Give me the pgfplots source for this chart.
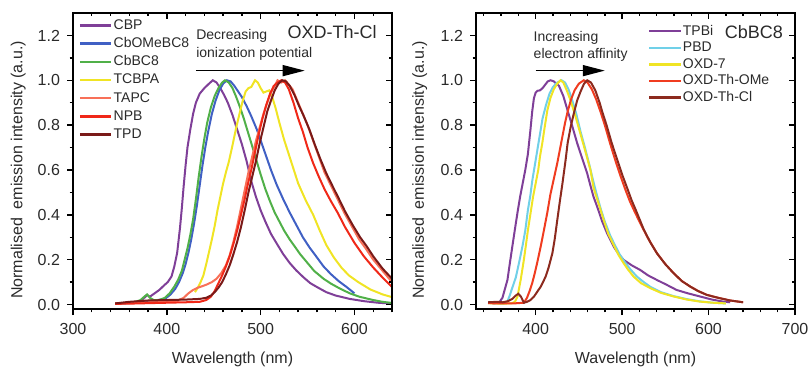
\documentclass[border=0pt]{standalone}
\usepackage{pgfplots}
\pgfplotsset{compat=1.18}
\usepackage{fontspec}
\setmainfont{Liberation Sans}
\usetikzlibrary{arrows.meta}
\definecolor{labgray}{HTML}{2A2A2A}
\definecolor{cPurple}{HTML}{7F3F98}
\definecolor{cBlue}{HTML}{4060C4}
\definecolor{cGreen}{HTML}{50B048}
\definecolor{cYellow}{HTML}{F0E424}
\definecolor{cTAPC}{HTML}{F87058}
\definecolor{cNPB}{HTML}{F02818}
\definecolor{cTPD}{HTML}{7A1A18}
\definecolor{cCyan}{HTML}{70D0E8}
\definecolor{cOMe}{HTML}{F03C20}
\definecolor{cCl}{HTML}{8C2A1E}
\pgfplotsset{
  base/.style={
    scale only axis, width=159.5pt, height=148pt,
    ymin=-0.02, ymax=1.3,
    ytick={0,0.2,0.4,0.6,0.8,1.0,1.2},
    minor ytick={0.1,0.3,0.5,0.7,0.9,1.1},
    axis line style={line width=0.9pt},
    every tick/.style={line width=0.7pt, black},
    major tick length=3pt, minor tick length=1.7pt,
  },
  myaxis/.style={
    base,
    tick align=outside, xtick pos=bottom, ytick pos=left,
    yticklabel style={/pgf/number format/fixed, /pgf/number format/fixed zerofill, /pgf/number format/precision=1},
    /pgf/number format/assume math mode=true,
    tick label style={font=\fontsize{8}{9}\selectfont, text=labgray},
    xticklabel style={yshift=-0.8pt},
    label style={font=\fontsize{8}{9}\selectfont, text=labgray},
    xlabel={Wavelength (nm)},
    ylabel={Normalised\ \ emission intensity (a.u.)},
    xlabel style={at={(axis description cs:0.5,0)}, anchor=base, yshift=-27pt},
    every axis plot/.append style={line width=1pt},
    legend cell align=left,
    legend image code/.code={\draw[##1, line width=1.2pt] (0pt,0pt) -- (15.8pt,0pt);},
  },
  mirror/.style={
    base, tick align=inside, xtick pos=top, ytick pos=right,
    xticklabels={}, yticklabels={},
  },
}
\begin{document}
\begin{tikzpicture}
\path[use as bounding box] (-36.5pt,-28.5pt) rectangle (368.5pt,154.5pt);
% ---------------- left panel ----------------
\begin{axis}[myaxis, at={(0pt,0pt)}, anchor=south west,
  xmin=300, xmax=640, xtick={300,400,500,600},
  minor xtick={320,340,360,380,420,440,460,480,520,540,560,580,620,640},
  ylabel style={at={(axis description cs:-0.172,0.47)}, anchor=center},
  legend style={draw=none, fill=none, inner sep=0pt, at={(axis description cs:0.0166,0.985)}, anchor=north west,
    font=\fontsize{7}{8}\selectfont, text=labgray, row sep=1.6pt,
    nodes={inner sep=0.5pt, text height=5.2pt, text depth=1.3pt},
    /tikz/every even column/.append style={column sep=2.8pt}},
]
\addplot[cPurple] coordinates {(345,0.005)(355,0.006)(365,0.01)(372,0.015)(376,0.03)(379,0.042)(382,0.035)(387,0.05)(392,0.065)(397,0.085)(401,0.1)(405,0.125)(408,0.17)(411,0.23)(414,0.34)(416,0.43)(418,0.53)(420,0.62)(422,0.70)(425,0.78)(428,0.85)(431,0.9)(435,0.94)(440,0.965)(445,0.985)(449,1.0)(453,0.99)(457,0.965)(461,0.935)(465,0.9)(470,0.845)(475,0.78)(480,0.715)(485,0.64)(490,0.55)(495,0.48)(500,0.42)(505,0.37)(511,0.315)(517,0.273)(524,0.225)(531,0.185)(538,0.152)(546,0.12)(553,0.095)(560,0.078)(570,0.055)(580,0.04)(595,0.025)(610,0.015)(625,0.008)(640,0.004)};
\addlegendentry{CBP}
\addplot[cBlue] coordinates {(350,0.004)(365,0.008)(378,0.015)(390,0.02)(398,0.025)(404,0.045)(409,0.07)(413,0.1)(417,0.14)(420,0.18)(423,0.23)(426,0.29)(429,0.36)(432,0.44)(435,0.53)(438,0.62)(441,0.7)(444,0.77)(448,0.85)(452,0.91)(456,0.955)(460,0.985)(464,1.0)(468,0.995)(472,0.975)(476,0.95)(480,0.925)(485,0.885)(490,0.84)(496,0.78)(501,0.72)(506,0.66)(511,0.6)(517,0.535)(524,0.47)(531,0.41)(538,0.355)(545,0.3)(552,0.255)(560,0.21)(567,0.17)(575,0.135)(583,0.105)(591,0.08)(600,0.05)};
\addlegendentry{CbOMeBC8}
\addplot[cGreen] coordinates {(345,0.004)(355,0.006)(365,0.01)(372,0.02)(376,0.035)(379,0.045)(382,0.03)(386,0.02)(392,0.02)(398,0.03)(403,0.05)(408,0.08)(412,0.11)(416,0.15)(419,0.2)(422,0.25)(425,0.31)(428,0.38)(431,0.47)(434,0.57)(437,0.66)(440,0.74)(443,0.81)(447,0.88)(451,0.93)(455,0.965)(459,0.99)(462,1.0)(466,0.99)(470,0.965)(474,0.925)(478,0.88)(482,0.83)(486,0.775)(490,0.72)(495,0.65)(500,0.58)(505,0.515)(510,0.46)(515,0.41)(520,0.37)(525,0.33)(531,0.29)(537,0.255)(542,0.225)(549,0.19)(557,0.15)(567,0.115)(575,0.093)(585,0.07)(595,0.05)(605,0.035)(620,0.02)(630,0.012)(640,0.007)};
\addlegendentry{CbBC8}
\addplot[cYellow] coordinates {(430,0.055)(433,0.075)(436,0.1)(439,0.13)(442,0.18)(445,0.235)(448,0.29)(451,0.35)(454,0.42)(457,0.48)(460,0.54)(463,0.59)(466,0.635)(470,0.71)(474,0.79)(478,0.86)(481,0.91)(484,0.95)(487,0.965)(490,0.97)(494,1.0)(497,0.99)(500,0.965)(503,0.945)(506,0.95)(509,0.955)(512,0.93)(516,0.875)(520,0.81)(525,0.735)(530,0.67)(535,0.605)(540,0.54)(548,0.465)(556,0.4)(563,0.33)(570,0.265)(578,0.21)(586,0.165)(594,0.13)(604,0.1)(617,0.067)(630,0.045)(640,0.033)};
\addlegendentry{TCBPA}
\addplot[cTAPC] coordinates {(345,0.005)(360,0.006)(380,0.01)(400,0.012)(412,0.018)(418,0.03)(423,0.05)(428,0.065)(433,0.075)(438,0.082)(443,0.09)(448,0.1)(453,0.115)(458,0.14)(463,0.175)(467,0.22)(471,0.28)(475,0.35)(478,0.41)(481,0.47)(484,0.53)(487,0.59)(491,0.66)(495,0.73)(499,0.79)(503,0.85)(507,0.9)(511,0.945)(515,0.975)(518,1.0)(522,0.99)(526,1.0)(530,0.98)(534,0.96)(538,0.92)(544,0.86)(550,0.8)(556,0.73)(562,0.66)(568,0.59)(575,0.53)(582,0.47)(589,0.41)(597,0.35)(605,0.29)(612,0.25)(620,0.2)(630,0.15)(640,0.1)};
\addlegendentry{TAPC}
\addplot[cNPB] coordinates {(345,0.003)(360,0.004)(380,0.006)(400,0.008)(420,0.01)(435,0.012)(442,0.02)(447,0.035)(451,0.06)(455,0.095)(459,0.13)(463,0.17)(467,0.215)(471,0.27)(475,0.33)(479,0.4)(483,0.47)(486,0.53)(490,0.6)(494,0.68)(498,0.76)(502,0.83)(506,0.89)(510,0.94)(514,0.975)(518,0.99)(522,1.0)(526,0.99)(530,0.96)(535,0.9)(540,0.83)(545,0.77)(550,0.7)(556,0.63)(562,0.57)(568,0.515)(575,0.46)(582,0.41)(590,0.345)(600,0.275)(610,0.215)(620,0.165)(630,0.12)(640,0.078)};
\addlegendentry{NPB}
\addplot[cTPD] coordinates {(345,0.005)(360,0.012)(380,0.018)(400,0.02)(420,0.022)(435,0.025)(442,0.03)(447,0.04)(451,0.055)(455,0.075)(459,0.1)(463,0.135)(467,0.175)(471,0.225)(475,0.28)(479,0.345)(483,0.42)(487,0.5)(491,0.57)(495,0.64)(499,0.72)(503,0.79)(507,0.86)(511,0.91)(515,0.955)(519,0.985)(523,1.0)(527,0.995)(531,0.975)(536,0.935)(541,0.885)(546,0.84)(552,0.78)(558,0.71)(564,0.645)(570,0.585)(577,0.525)(583,0.475)(590,0.415)(598,0.355)(606,0.3)(613,0.26)(620,0.215)(630,0.16)(640,0.115)};
\addlegendentry{TPD}
\draw[-{Triangle[length=11pt,width=5.5pt]}, line width=0.7pt, black] (axis cs:431,1.043) -- (axis cs:547,1.043);
\node[anchor=base west, inner sep=0pt, font=\fontsize{7}{8}\selectfont, text=labgray] at (axis cs:431,1.184) {Decreasing};
\node[anchor=base west, inner sep=0pt, font=\fontsize{7}{8}\selectfont, text=labgray] at (axis cs:431,1.1) {ionization potential};
\node[anchor=base east, inner sep=0pt, font=\fontsize{9}{10}\selectfont, text=labgray] at (axis cs:624,1.188) {OXD-Th-Cl};
\end{axis}
\begin{axis}[mirror, at={(0pt,0pt)}, anchor=south west,
  xmin=300, xmax=640, xtick={300,400,500,600},
  minor xtick={320,340,360,380,420,440,460,480,520,540,560,580,620,640}]
\end{axis}
% ---------------- right panel ----------------
\begin{axis}[myaxis, at={(201.5pt,0pt)}, anchor=south west,
  xmin=331, xmax=700, xtick={400,500,600,700},
  minor xtick={340,360,380,420,440,460,480,520,540,560,580,620,640,660,680},
  ylabel style={at={(axis description cs:-0.176,0.47)}, anchor=center},
  legend style={draw=none, fill=none, inner sep=0pt, at={(axis description cs:0.5377,0.965)}, anchor=north west,
    font=\fontsize{7}{8}\selectfont, text=labgray, row sep=0.8pt,
    nodes={inner sep=0.5pt, text height=5.2pt, text depth=1.3pt},
    /tikz/every even column/.append style={column sep=2.8pt}},
]
\addplot[cPurple] coordinates {(345,0.01)(352,0.005)(358,0.01)(361.6,0.03)(364.5,0.07)(367.4,0.11)(370,0.18)(373,0.258)(376,0.335)(379,0.41)(382,0.48)(385,0.54)(388,0.6)(391,0.67)(394,0.78)(396,0.86)(398,0.92)(400,0.945)(402,0.953)(405,0.955)(408,0.965)(411,0.98)(414,0.995)(417.3,1.0)(421,0.995)(427,0.975)(432,0.93)(436.6,0.87)(442,0.8)(448,0.72)(454,0.65)(459.6,0.585)(463.4,0.53)(467,0.48)(471.2,0.436)(477,0.37)(482.7,0.317)(490.3,0.258)(496,0.225)(501.8,0.199)(511,0.175)(521,0.154)(530,0.13)(540,0.11)(552,0.087)(563,0.065)(576,0.05)(590,0.036)(604,0.022)(617,0.013)(625,0.01)};
\addlegendentry{TPBi}
\addplot[cCyan] coordinates {(345,0.008)(355,0.005)(363,0.004)(367,0.01)(370,0.04)(373,0.075)(377,0.12)(381,0.19)(385,0.265)(388,0.33)(391,0.42)(394,0.49)(396,0.55)(399,0.62)(402,0.69)(405,0.76)(408,0.83)(412,0.89)(416,0.94)(420,0.97)(425,0.99)(430,1.0)(434,0.99)(438,0.96)(442,0.915)(447,0.85)(452,0.77)(457,0.7)(462,0.625)(466,0.56)(470,0.5)(475,0.43)(480,0.37)(486,0.31)(491,0.27)(497,0.225)(503,0.19)(510,0.155)(517,0.125)(525,0.1)(533,0.078)(545,0.055)(560,0.037)(575,0.024)(590,0.014)(605,0.008)(620,0.005)};
\addlegendentry{PBD}
\addplot[cYellow] coordinates {(345,0.006)(360,0.004)(372,0.005)(376,0.012)(379,0.035)(382.7,0.11)(386,0.19)(388.5,0.258)(391,0.33)(394.2,0.41)(397,0.48)(400,0.54)(403,0.6)(405,0.66)(407.7,0.72)(410,0.78)(413.5,0.865)(417,0.92)(421,0.96)(425,0.985)(428.8,1.0)(432,0.99)(436,0.955)(440.4,0.91)(446,0.84)(451.9,0.76)(457,0.69)(463.4,0.6)(467,0.52)(472,0.46)(478.8,0.376)(484,0.315)(490.3,0.265)(496,0.22)(501.8,0.184)(507,0.155)(513.4,0.124)(522,0.095)(532.6,0.073)(545,0.052)(559.5,0.036)(575,0.022)(590,0.013)(605,0.008)(620,0.005)};
\addlegendentry{OXD-7}
\addplot[cOMe] coordinates {(345,0.006)(360,0.005)(375,0.005)(386.5,0.008)(390,0.03)(393,0.06)(396,0.095)(399,0.14)(402,0.19)(405.8,0.258)(409.5,0.33)(413.5,0.41)(417,0.49)(421,0.56)(425,0.63)(428,0.69)(431,0.75)(434,0.81)(437,0.86)(441,0.915)(445,0.955)(450,0.985)(455.7,1.0)(460,0.99)(465,0.96)(470,0.915)(475,0.86)(480,0.8)(486,0.72)(492,0.645)(498,0.575)(504,0.51)(509,0.46)(515,0.41)(522,0.355)(530,0.295)(540.4,0.228)(550,0.18)(559.5,0.14)(569,0.105)(578.8,0.08)(588,0.06)(598,0.043)(611,0.03)(625,0.018)(640,0.01)};
\addlegendentry{OXD-Th-OMe}
\addplot[cCl] coordinates {(345,0.01)(355,0.012)(362,0.01)(368,0.015)(373,0.025)(377,0.04)(380,0.048)(383,0.035)(386.5,0.008)(390,0.012)(394,0.02)(398,0.035)(402,0.058)(406,0.08)(411.5,0.124)(415,0.165)(419.3,0.228)(422,0.29)(425,0.376)(428,0.46)(431,0.54)(434.6,0.643)(437,0.72)(440.4,0.79)(444,0.85)(448,0.91)(452,0.95)(456,0.985)(459.6,1.0)(464,0.99)(469,0.955)(474,0.9)(477,0.86)(482,0.8)(488,0.72)(494,0.65)(500,0.58)(505.8,0.52)(511,0.465)(516,0.42)(525,0.335)(533,0.275)(540.4,0.228)(550,0.18)(559.5,0.14)(569,0.105)(578.8,0.08)(588,0.06)(598,0.043)(611,0.03)(625,0.018)(640,0.01)};
\addlegendentry{OXD-Th-Cl}
\draw[-{Triangle[length=11pt,width=5.5pt]}, line width=0.7pt, black] (axis cs:400,1.043) -- (axis cs:480,1.043);
\node[anchor=base west, inner sep=0pt, font=\fontsize{7}{8}\selectfont, text=labgray] at (axis cs:397.3,1.173) {Increasing};
\node[anchor=base west, inner sep=0pt, font=\fontsize{7}{8}\selectfont, text=labgray] at (axis cs:397.3,1.095) {electron affinity};
\node[anchor=base east, inner sep=0pt, font=\fontsize{9}{10}\selectfont, text=labgray] at (axis cs:686.4,1.188) {CbBC8};
\end{axis}
\begin{axis}[mirror, at={(201.5pt,0pt)}, anchor=south west,
  xmin=331, xmax=700, xtick={400,500,600,700},
  minor xtick={340,360,380,420,440,460,480,520,540,560,580,620,640,660,680}]
\end{axis}
\end{tikzpicture}
\end{document}
